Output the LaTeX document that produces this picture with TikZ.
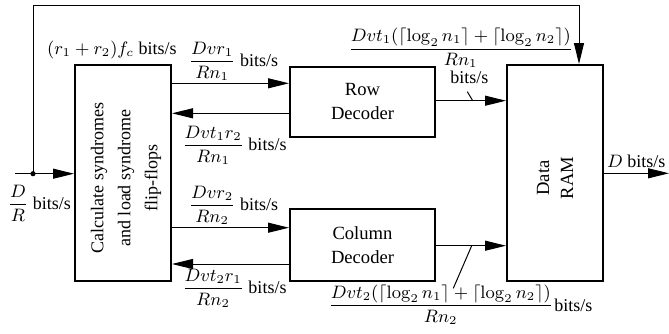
\documentclass[tikz,border=0pt]{standalone}
\usepackage{amsmath}
\usepackage[no-math]{fontspec}
\setmainfont{Liberation Serif}
\usetikzlibrary{arrows.meta,calc}
\tikzset{
  blk/.style={draw,line width=1pt,inner sep=0pt,align=center,font=\fontsize{9.3}{12}\selectfont},
  rtxt/.style={rotate=90,align=center,inner sep=0pt},
  arr/.style={line width=0.5pt,-{Triangle[length=10.5pt,width=5pt]}},
  wire/.style={line width=0.5pt},
  lbl/.style={inner sep=0pt,anchor=base west,font=\fontsize{9}{10}\selectfont},
  wlbl/.style={inner sep=0pt,anchor=base west,font=\fontsize{8.85}{10}\selectfont}
}
\begin{document}
\begin{tikzpicture}[x=0.5pt,y=-0.5pt]
\useasboundingbox (0,0) rectangle (669,333);
% blocks
\node[blk,minimum width=48pt,minimum height=108pt] (calc) at (123,173) {};
\node[rtxt,font=\fontsize{9}{13.5}\selectfont] (calct) at (126,178) {Calculate syndromes\\and load syndrome\\flip-flops};
\node[blk,minimum width=72.5pt,minimum height=35pt] (row) at (362.5,101.5) {Row\\Decoder};
\node[blk,minimum width=72.5pt,minimum height=36pt] (col) at (362.5,245) {Column\\Decoder};
\node[blk,minimum width=48pt,minimum height=108pt] (ram) at (555,173) {};
\node[rtxt,font=\fontsize{9.3}{12}\selectfont] (ramt) at (555,178) {Data\\RAM};
% coordinates
\coordinate (in) at (15,173.7);
\coordinate (jn) at (33,173.7);
\coordinate (tl) at (33,5);
\coordinate (tr) at (579,5);
\coordinate (out) at (669,173.3);
% input, feedback, output
\draw[arr] (in) -- (calc.west |- jn);
\fill (jn) circle (1.3pt);
\draw[arr] (jn) -- (tl) -- (tr) -- (tr |- ram.north);
\draw[arr] (ram.east |- out) -- (out);
% calc <-> decoders
\draw[arr] (calc.east |- 0,83.3) -- (row.west |- 0,83.3);
\draw[arr] (row.west |- 0,113.3) -- (calc.east |- 0,113.3);
\draw[arr] (calc.east |- 0,227.7) -- (col.west |- 0,227.7);
\draw[arr] (col.west |- 0,264) -- (calc.east |- 0,264);
% decoders -> RAM
\draw[arr] (row.east |- 0,100.7) -- (ram.west |- 0,100.7);
\draw[arr] (col.east |- 0,245.7) -- (ram.west |- 0,245.7);
\coordinate (s1a) at (467.3,91.7);
\coordinate (s1b) at (472.7,100.7);
\draw[wire] (s1a) -- (s1b);
\coordinate (s2a) at (471.7,245.7);
\coordinate (s2b) at (453.3,288.3);
\draw[wire] (s2a) -- (s2b);
% labels
\node[lbl] (l1) at (46.7,54) {$(r_1+r_2)f_c$ bits/s};
\node[lbl] (l2) at (188.3,66) {$\dfrac{Dvr_1}{Rn_1}$ bits/s};
\node[lbl] (l3) at (181.7,150) {$\dfrac{Dvt_1r_2}{Rn_1}$ bits/s};
\node[lbl] (l4) at (7.3,209) {$\dfrac{D}{R}$ bits/s};
\node[lbl] (l5) at (188.3,210) {$\dfrac{Dvr_2}{Rn_2}$ bits/s};
\node[lbl] (l6) at (181.7,293.3) {$\dfrac{Dvt_2r_1}{Rn_2}$ bits/s};
\node[wlbl] (l7) at (348,53.5) {$\dfrac{Dvt_1(\lceil\log_2 n_1\rceil+\lceil\log_2 n_2\rceil)}{Rn_1}$};
\node[lbl] (l7b) at (450,83) {bits/s};
\node[wlbl] (l8) at (328,310) {$\dfrac{Dvt_2(\lceil\log_2 n_1\rceil+\lceil\log_2 n_2\rceil)}{Rn_2}$};
\node[lbl] (l8b) at (554,311) {bits/s};
\node[lbl] (l9) at (606.7,167) {$D$ bits/s};
\end{tikzpicture}
\end{document}
